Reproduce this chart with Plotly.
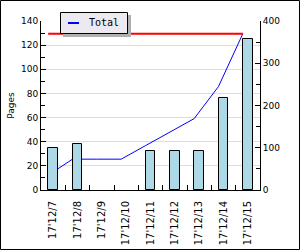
import plotly.graph_objects as go

categories = ["17'12/7", "17'12/8", "17'12/9", "17'12/10", "17'12/11",
              "17'12/12", "17'12/13", "17'12/14", "17'12/15"]
pages = [35, 38, 0, 0, 32, 32, 32, 76, 125]
total = [35, 73, 73, 73, 105, 137, 169, 245, 370]
left_ticks = [0, 20, 40, 60, 80, 100, 120, 140]
right_ticks = [0, 100, 200, 300, 400]

W, H = 300, 250
L, R, T, B = 41, 40, 21, 60
PW, PH = W - L - R, H - T - B

def px(x):
    return (x - L) / PW

def py(y):
    return (H - B - y) / PH

idx = list(range(len(categories)))
bw = 0.41
line_x = [i - bw / 2 for i in idx]

fig = go.Figure()
mx = max(total)
fig.add_trace(go.Scatter(x=line_x, y=total, mode="lines", line=dict(color="#0000FF", width=1),
                         name="Total", showlegend=False, yaxis="y"))
fig.add_trace(go.Scatter(x=[line_x[0], line_x[-1]], y=[mx, mx], mode="lines", line=dict(color="#FF0000", width=2),
                         showlegend=False, yaxis="y"))
fig.add_trace(go.Bar(x=idx, y=pages, width=bw,
                     marker=dict(color="#ADD8E6", line=dict(color="black", width=[1 if v else 0 for v in pages])),
                     name="Pages", showlegend=False, yaxis="y2"))

font = dict(family="DejaVu Sans", size=9, color="black")
shapes = [
    dict(type="rect", xref="paper", yref="paper", x0=px(0.5), x1=px(299.5), y0=py(249.5), y1=py(0.5),
         line=dict(color="black", width=1), layer="above"),
    dict(type="rect", xref="paper", yref="paper", x0=px(63), x1=px(131), y0=py(37), y1=py(15),
         fillcolor="#B0B0B0", line=dict(width=0), layer="above"),
    dict(type="rect", xref="paper", yref="paper", x0=px(60.5), x1=px(127.5), y0=py(33.5), y1=py(12.5),
         fillcolor="#ECEAF0", line=dict(color="black", width=1), layer="above"),
    dict(type="line", xref="paper", yref="paper", x0=px(68), x1=px(79), y0=py(23), y1=py(23),
         line=dict(color="#0000FF", width=2), layer="above"),
]
annotations = [
    dict(text="Total", xref="paper", yref="paper", x=px(87), y=py(23), xanchor="left", yanchor="middle",
         showarrow=False, font=dict(family="DejaVu Sans Mono", size=10, color="black")),
]

fig.update_layout(
    width=W, height=H, margin=dict(l=L, r=R, t=T, b=B, autoexpand=False),
    paper_bgcolor="white", plot_bgcolor="white",
    font=font, showlegend=False, bargap=0,
    shapes=shapes, annotations=annotations,
    xaxis=dict(range=[-0.5, 8.5], tickvals=idx, ticktext=categories, tickangle=-90, automargin=False,
               ticks="", ticklabelstandoff=6, showline=True, linecolor="black", linewidth=1, showgrid=False,
               zeroline=False, tickfont=dict(family="DejaVu Sans", size=10, color="black"),
               minor=dict(tickvals=[i + 0.5 for i in idx[:-1]], ticks="inside", ticklen=5, tickcolor="black", showgrid=False)),
    yaxis=dict(range=[0, 400], tickvals=right_ticks, side="right", ticks="inside", ticklen=5, automargin=False,
               tickcolor="black", showline=True, linecolor="black", linewidth=1, showgrid=False, zeroline=False,
               tickfont=dict(color="black"),
               minor=dict(dtick=50, tick0=0, ticks="inside", ticklen=4, tickcolor="black", showgrid=False)),
    yaxis2=dict(range=[0, 140], tickvals=left_ticks, overlaying="y", side="left", ticks="inside", ticklen=5,
                automargin=False, tickfont=dict(color="black"),
                tickcolor="black", showline=True, linecolor="black", linewidth=1, showgrid=True, gridcolor="#DDDDDD",
                zeroline=False, title=dict(text="Pages", font=dict(size=9, color="black"), standoff=4),
                minor=dict(dtick=10, tick0=0, ticks="inside", ticklen=4, tickcolor="black", showgrid=False)),
)

fig.write_html("out.html")
